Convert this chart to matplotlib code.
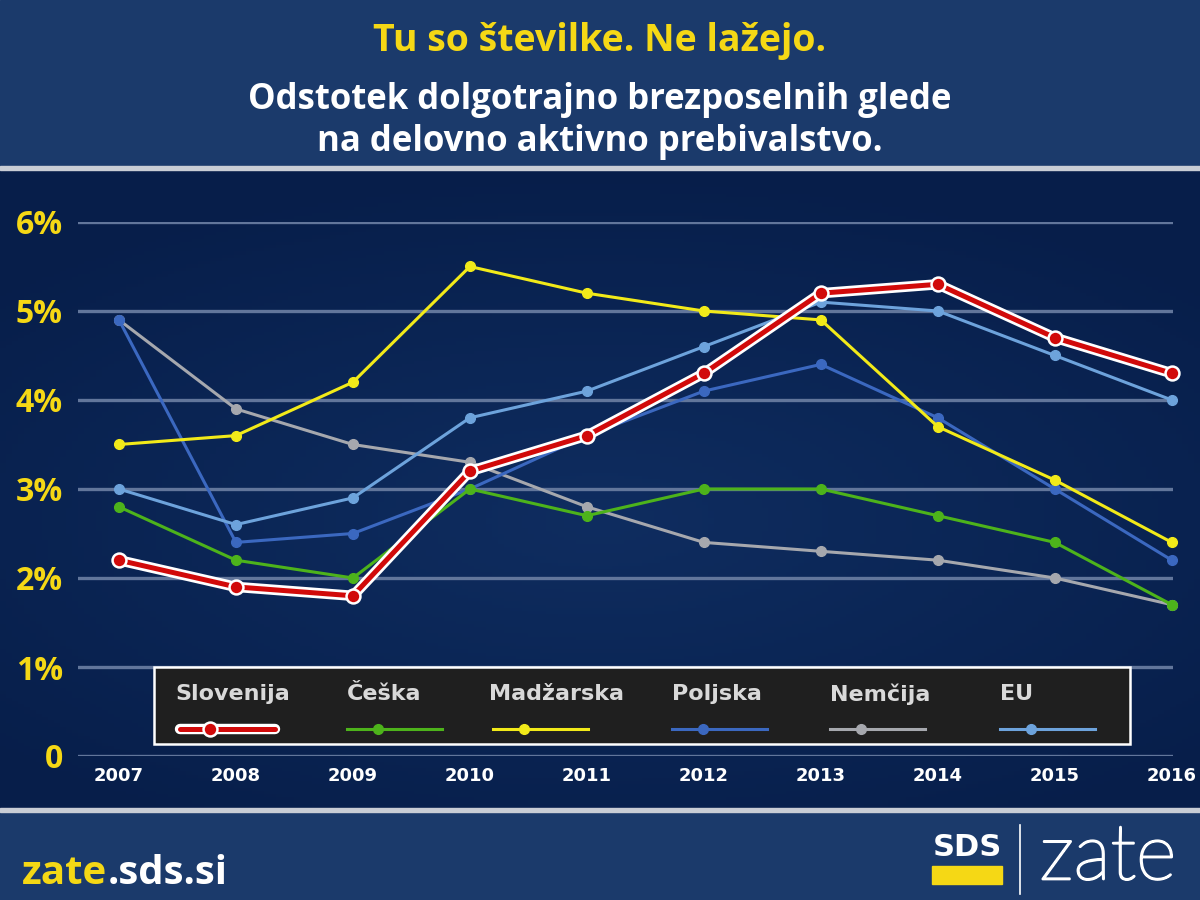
#!/usr/bin/env python3
import numpy as np
import matplotlib as mpl
mpl.use("Agg")
import matplotlib.pyplot as plt
import matplotlib.patheffects as pe
from matplotlib.patches import Rectangle
from matplotlib.lines import Line2D

# data (% of active population)
years = [2007, 2008, 2009, 2010, 2011, 2012, 2013, 2014, 2015, 2016]
slovenija = [2.2, 1.9, 1.8, 3.2, 3.6, 4.3, 5.2, 5.3, 4.7, 4.3]
ceska = [2.8, 2.2, 2.0, 3.0, 2.7, 3.0, 3.0, 2.7, 2.4, 1.7]
madzarska = [3.5, 3.6, 4.2, 5.5, 5.2, 5.0, 4.9, 3.7, 3.1, 2.4]
poljska = [4.9, 2.4, 2.5, 3.0, 3.6, 4.1, 4.4, 3.8, 3.0, 2.2]
nemcija = [4.9, 3.9, 3.5, 3.3, 2.8, 2.4, 2.3, 2.2, 2.0, 1.7]
eu = [3.0, 2.6, 2.9, 3.8, 4.1, 4.6, 5.1, 5.0, 4.5, 4.0]

series_names = ["Slovenija", "Češka", "Madžarska", "Poljska", "Nemčija", "EU"]
series_values = [slovenija, ceska, madzarska, poljska, nemcija, eu]
series_colors = ["#d10a0a", "#4db31b", "#f2ea19", "#3b68c0", "#a6a8ae", "#6da3dc"]
draw_order = [4, 3, 5, 1, 2, 0]  # slovenija on top

y_ticks = [0, 1, 2, 3, 4, 5, 6]
y_labels = ["0", "1%", "2%", "3%", "4%", "5%", "6%"]

W, H = 1200, 900
YELLOW = "#f5d815"
plt.rcParams['font.family'] = ['Open Sans', 'DejaVu Sans']

fig = plt.figure(figsize=(12, 9), dpi=100)


def fx(px):
    return px / W


def fy(py):
    return 1 - py / H


# background: header, chart area gradient, footer
bg = fig.add_axes([0, 0, 1, 1], zorder=-10)
bg.set_axis_off()
yy, xx = np.mgrid[0:1:200j, 0:1:200j]
r = np.sqrt((xx - 0.5) ** 2 * 1.0 + (yy - 0.55) ** 2 * 1.6)
c_in = np.array([0x0f, 0x2d, 0x60]) / 255
c_out = np.array([0x07, 0x1e, 0x4a]) / 255
t = np.clip(r / 0.7, 0, 1)[..., None]
grad = c_in * (1 - t) + c_out * t
bg.imshow(grad, extent=[0, 1, fy(810), fy(168)], aspect="auto", origin="upper")
bg.add_patch(Rectangle((0, fy(166)), 1, 166 / H, color="#1b3a6b"))
bg.add_patch(Rectangle((0, 0), 1, fy(810), color="#1b3a6b"))
bg.add_patch(Rectangle((0, fy(170)), 1, 4 / H, color="#c9cdd5"))
bg.add_patch(Rectangle((0, fy(812)), 1, 4 / H, color="#c9cdd5"))
bg.set_xlim(0, 1)
bg.set_ylim(0, 1)

# titles
fig.text(0.5, fy(41), "Tu so številke. Ne lažejo.", color=YELLOW,
         fontsize=27, fontweight="bold", ha="center", va="center")
fig.text(0.5, fy(121), "Odstotek dolgotrajno brezposelnih glede\nna delovno aktivno prebivalstvo.",
         color="white", fontsize=25, fontweight="bold", ha="center", va="center",
         linespacing=1.25)

# chart
ax = fig.add_axes([fx(78), fy(756), fx(1173 - 78), (756 - 222) / H])
ax.set_facecolor("none")
for s in ax.spines.values():
    s.set_visible(False)
ax.set_xlim(2006.65, 2016.01)
ax.set_ylim(0, 6)
ax.set_yticks(y_ticks, y_labels)
ax.set_xticks(years, [str(y) for y in years])
ax.tick_params(axis="y", length=0, pad=11, labelcolor=YELLOW, labelsize=23)
ax.tick_params(axis="x", length=0, pad=8, labelcolor="white", labelsize=13)
for lab in ax.get_yticklabels():
    lab.set_fontweight("bold")
for lab in ax.get_xticklabels():
    lab.set_fontweight("bold")
    lab.set_family(["DejaVu Sans"])
for v in y_ticks:
    ax.axhline(v, color="#62769b", lw=2.4, zorder=1)

outline = [pe.Stroke(linewidth=7.5, foreground="white"), pe.Normal()]
for i in draw_order:
    vals = series_values[i]
    col = series_colors[i]
    if i == 0:
        ax.plot(years, vals, color=col, lw=3.6, zorder=10, clip_on=False,
                path_effects=outline)
        ax.plot(years, vals, ls="none", zorder=11, clip_on=False,
                marker="o", ms=10, mfc=col, mec="white", mew=1.8)
    else:
        ax.plot(years, vals, color=col, lw=2.2, zorder=5, clip_on=False,
                marker="o", ms=7, mfc=col, mec=col)

# legend box, drawn by hand to match the layout
leg_text_x = [175, 347, 489, 672, 830, 1000]
leg_line_x = [180, 347, 493, 672, 830, 1000]
fig.add_artist(Rectangle((fx(154), fy(744)), fx(1130 - 154), (744 - 667) / H,
                         facecolor="#1f1f1f", edgecolor="white", lw=1.8,
                         transform=fig.transFigure, zorder=20))
for i, name in enumerate(series_names):
    fig.text(fx(leg_text_x[i]), fy(694), name, color="#d9d9d9", fontsize=16,
             fontweight="bold", ha="left", va="center", zorder=21,
             family=["DejaVu Sans"])
    x0, x1 = leg_line_x[i], leg_line_x[i] + 95
    col = series_colors[i]
    if i == 0:
        ln = Line2D([fx(x0), fx(x1)], [fy(729)] * 2, color=col, lw=3.6,
                    transform=fig.transFigure, zorder=21, solid_capstyle="round",
                    path_effects=outline)
        mk = Line2D([fx(x0 + 30)], [fy(729)], marker="o", ms=10, mfc=col, mec="white",
                    mew=1.8, transform=fig.transFigure, zorder=22)
    else:
        ln = Line2D([fx(x0), fx(x1)], [fy(729)] * 2, color=col, lw=2.2,
                    transform=fig.transFigure, zorder=21)
        mk = Line2D([fx(x0 + 31)], [fy(729)], marker="o", ms=7, mfc=col, mec=col,
                    transform=fig.transFigure, zorder=22)
    fig.add_artist(ln)
    fig.add_artist(mk)

# footer
t1 = fig.text(fx(22), fy(873), "zate", color=YELLOW, fontsize=29,
              fontweight="bold", ha="left", va="center")
fig.canvas.draw()
bb = t1.get_window_extent()
fig.text(bb.x1 / W, fy(873), ".sds.si", color="white", fontsize=29,
         fontweight="bold", ha="left", va="center")

fig.text(fx(967), fy(847), "SDS", color="white", fontsize=22, fontweight="heavy",
         ha="center", va="center", family=["DejaVu Sans"])
fig.add_artist(Rectangle((fx(932), fy(884)), fx(70), 18 / H, color=YELLOW,
                         transform=fig.transFigure))
fig.add_artist(Line2D([fx(1020)] * 2, [fy(825), fy(894)], color="white", lw=1.2,
                      transform=fig.transFigure))
fig.text(fx(1108), fy(858), "zate", color="white", fontsize=56, fontweight="light",
         ha="center", va="center", family=["Lato", "DejaVu Sans"],
         path_effects=[pe.Stroke(linewidth=1.6, foreground="white"), pe.Normal()])

fig.savefig("out.png", dpi=100)
